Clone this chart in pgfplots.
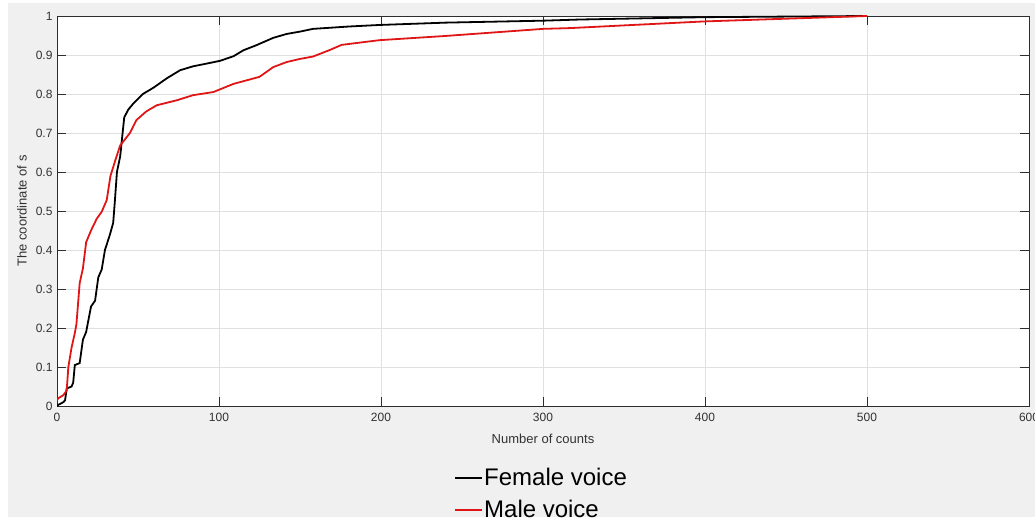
\documentclass[border=0pt]{standalone}
\usepackage{pgfplots}
\pgfplotsset{compat=1.18}
\usepackage{fontspec}
\setmainfont{Liberation Sans}
\definecolor{bggray}{RGB}{240,240,240}
\definecolor{axgray}{RGB}{45,45,45}
\definecolor{lblgray}{RGB}{50,50,50}
\definecolor{gridgray}{RGB}{224,224,224}
\definecolor{mred}{RGB}{224,22,22}
\begin{document}
\begin{tikzpicture}
\useasboundingbox (-57pt,-111pt) rectangle (978pt,406pt);
\fill[bggray] (-49pt,-111pt) rectangle (978pt,403pt);
\begin{axis}[
  at={(0pt,0pt)}, anchor=south west,
  scale only axis, width=972pt, height=390pt,
  xmin=0, xmax=600, ymin=0, ymax=1,
  axis background/.style={fill=white},
  xtick={0,100,200,300,400,500,600},
  ytick={0,0.1,0.2,0.3,0.4,0.5,0.6,0.7,0.8,0.9,1},
  yticklabels={0,0.1,0.2,0.3,0.4,0.5,0.6,0.7,0.8,0.9,1},
  xticklabels={0,100,200,300,400,500,600},
  xtick pos=both, ytick pos=both, tick align=inside,
  major tick length=9pt,
  tick style={color=axgray, line width=0.6pt},
  axis line style={color=axgray, line width=0.8pt},
  grid=major,
  major grid style={color=gridgray, line width=0.7pt},
  ticklabel style={font=\fontsize{12}{14}\selectfont, text=lblgray},
  /pgf/number format/assume math mode=true,
  xticklabel style={yshift=-4pt},
  yticklabel style={xshift=-1pt},
  xlabel={Number of counts},
  ylabel={The coordinate of s},
  label style={font=\fontsize{13}{15}\selectfont, text=lblgray},
  xlabel style={at={(axis description cs:0.5,-0.084)}, anchor=center},
  ylabel style={at={(axis description cs:-0.036,0.5)}, anchor=center},
  legend cell align=left,
  legend style={at={(axis description cs:0.4084,-0.1436)}, anchor=north west,
    draw=none, fill=none, inner sep=0pt, row sep=0pt,
    font=\fontsize{24}{28}\selectfont,
    nodes={inner sep=1pt, text height=22pt, text depth=8pt},
    /tikz/every even column/.style={column sep=0pt}},
  legend image code/.code={\draw[#1, line width=2pt] (0pt,0pt) -- (27pt,0pt);},
]
\addplot[black, line width=1.8pt] coordinates {
(0,0) (0.8,0.003) (4,0.01) (5,0.015) (6,0.045) (9,0.05) (10,0.06) (11,0.105)
(14,0.11) (16,0.17) (18,0.19) (21,0.255) (23.5,0.27) (25.5,0.33) (27.6,0.35)
(29.6,0.40) (32.7,0.44) (34.7,0.47) (35.8,0.53) (37,0.6) (39,0.64) (40,0.68)
(41.5,0.74) (44,0.76) (47,0.775) (53,0.80) (59.5,0.816) (67.7,0.84) (76,0.861)
(84,0.871) (92.4,0.878) (100.6,0.885) (109,0.897) (115,0.912) (123,0.925)
(133.5,0.944) (141.8,0.954) (150,0.96) (158,0.967) (180,0.973) (199,0.977)
(240,0.983) (300,0.988) (323,0.991) (400,0.997) (500,1)
};
\addlegendentry{Female voice}
\addplot[mred, line width=1.8pt] coordinates {
(0,0.015) (0.8,0.02) (4,0.028) (6,0.04) (7,0.10) (9,0.15) (11,0.187) (12,0.21)
(14,0.315) (16,0.353) (18,0.42) (21,0.45) (24.5,0.48) (27.6,0.498) (30.7,0.528)
(33,0.59) (36,0.63) (39,0.668) (45,0.70) (49,0.733) (55,0.755) (61.5,0.771)
(74,0.784) (84,0.797) (96.5,0.805) (109,0.826) (125,0.844) (133.5,0.869)
(141.8,0.882) (150,0.89) (158,0.896) (168.5,0.913) (175.7,0.926) (199,0.938)
(240.5,0.949) (300,0.967) (316.7,0.969) (399,0.986) (500,1.0)
};
\addlegendentry{Male voice}
\end{axis}
\end{tikzpicture}
\end{document}
